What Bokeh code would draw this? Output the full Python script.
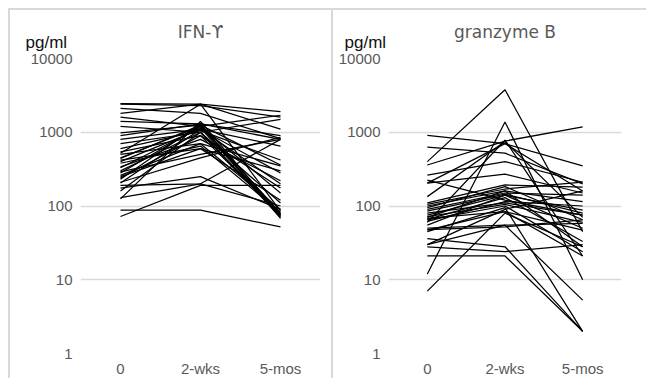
from bokeh.plotting import figure
from bokeh.layouts import row
from bokeh.models import FixedTicker, NumeralTickFormatter, Title
from bokeh.embed import file_html
from bokeh.resources import INLINE

time_points = ["0", "2-wks", "5-mos"]
y_ticks = [1, 10, 100, 1000, 10000]

# IFN-gamma (pg/ml), one entry per subject
ifn_0wk = [2450, 2400, 2100, 1800, 1600, 1400, 1200, 980, 900, 800, 700, 600,
           540, 500, 450, 420, 400, 380, 340, 300, 290, 280, 260, 250, 240, 230,
           210, 205, 190, 175, 160, 130, 125, 88, 72, 520, 330, 440]
ifn_2wk = [2400, 2300, 1800, 2400, 1200, 1300, 1000, 1250, 1300, 1100, 1000, 1050,
           900, 700, 1200, 600, 1100, 650, 800, 1000, 500, 1200, 700, 600, 900, 1300,
           450, 1100, 200, 250, 1000, 200, 1400, 88, 190, 2400, 1150, 1250]
ifn_5mo = [1900, 1600, 820, 85, 1700, 800, 1500, 80, 900, 650, 75, 420,
           78, 350, 75, 300, 280, 82, 220, 70, 800, 150, 90, 120, 175, 68,
           850, 200, 800, 90, 110, 100, 75, 52, 190, 1100, 72, 360]

# granzyme B (pg/ml)
gzb_0wk = [400, 12, 910, 630, 360, 204, 263, 204, 134, 110, 100, 95, 90, 85, 80,
           75, 72, 70, 68, 66, 65, 50, 48, 47, 36, 28, 21, 30, 7, 225, 60, 30,
           45, 55, 105, 62]
gzb_2wk = [3770, 1380, 700, 520, 760, 700, 400, 270, 750, 193, 160, 183, 150, 145, 110,
           140, 105, 160, 84, 130, 100, 55, 52, 84, 28, 24, 21, 55, 80, 120, 780, 90,
           95, 140, 170, 115]
gzb_5mo = [45, 10, 350, 200, 1180, 160, 210, 150, 70, 180, 115, 65, 140, 80, 75,
           88, 60, 28, 47, 33, 24, 58, 65, 21, 2.0, 30, 2.0, 5.3, 28, 75, 21, 160,
           2.0, 50, 210, 100]

GRID = "#d9d9d9"
TXT = "#595959"
FONT = "Liberation Sans"
TITLE_FONT = "DejaVu Sans"
H = 370


def make_panel(title, v0, v2, v5, width, border_left, border_right, unit_offset):
    p = figure(width=width, height=H, x_range=time_points, title=None,
               y_axis_type="log", y_range=(1, 10000),
               output_backend="svg", toolbar_location=None,
               min_border_left=border_left, min_border_right=border_right,
               min_border_top=48, min_border_bottom=27)
    p.outline_line_color = None
    p.xgrid.grid_line_color = None
    p.ygrid.grid_line_color = GRID
    p.ygrid.grid_line_width = 1.5
    p.yaxis.ticker = FixedTicker(ticks=y_ticks)
    p.yaxis.formatter = NumeralTickFormatter(format="0")
    for ax in (p.xaxis[0], p.yaxis[0]):
        ax.axis_line_color = None
        ax.major_tick_line_color = None
        ax.minor_tick_line_color = None
        ax.major_tick_out = 0
        ax.major_tick_in = 0
        ax.minor_tick_out = 0
        ax.major_label_text_font = FONT
        ax.major_label_text_font_size = "15px"
        ax.major_label_text_color = TXT
    p.yaxis.major_label_standoff = 8
    p.xaxis.major_label_standoff = 6

    xs = [time_points] * len(v0)
    ys = [[a, b, c] for a, b, c in zip(v0, v2, v5)]
    p.multi_line(xs, ys, line_color="black", line_width=1.25)

    p.add_layout(Title(text="pg/ml", align="left", offset=unit_offset,
                       text_font=FONT, text_font_size="17px",
                       text_font_style="normal", text_color="#111111",
                       standoff=14), "above")
    p.add_layout(Title(text=title, align="center", text_font=TITLE_FONT,
                       text_font_size="17px", text_font_style="normal",
                       text_color=TXT, standoff=-36), "above")
    return p


p1 = make_panel("IFN-\u03d2", ifn_0wk, ifn_2wk, ifn_5mo, 325, 70, 15, -55)
p2 = make_panel("granzyme B", gzb_0wk, gzb_2wk, gzb_5mo, 313, 55, 25, -44)
p1.margin = (8, 0, 0, 8)
p2.margin = (8, 0, 0, 0)
p1.styles = {"border-top": "2px solid #d9d9d9", "border-left": "2px solid #d9d9d9",
             "border-right": "2px solid #d9d9d9"}
p2.styles = {"border-top": "2px solid #d9d9d9"}

layout = row(p1, p2)
open("out.html", "w").write(file_html(layout, INLINE))
